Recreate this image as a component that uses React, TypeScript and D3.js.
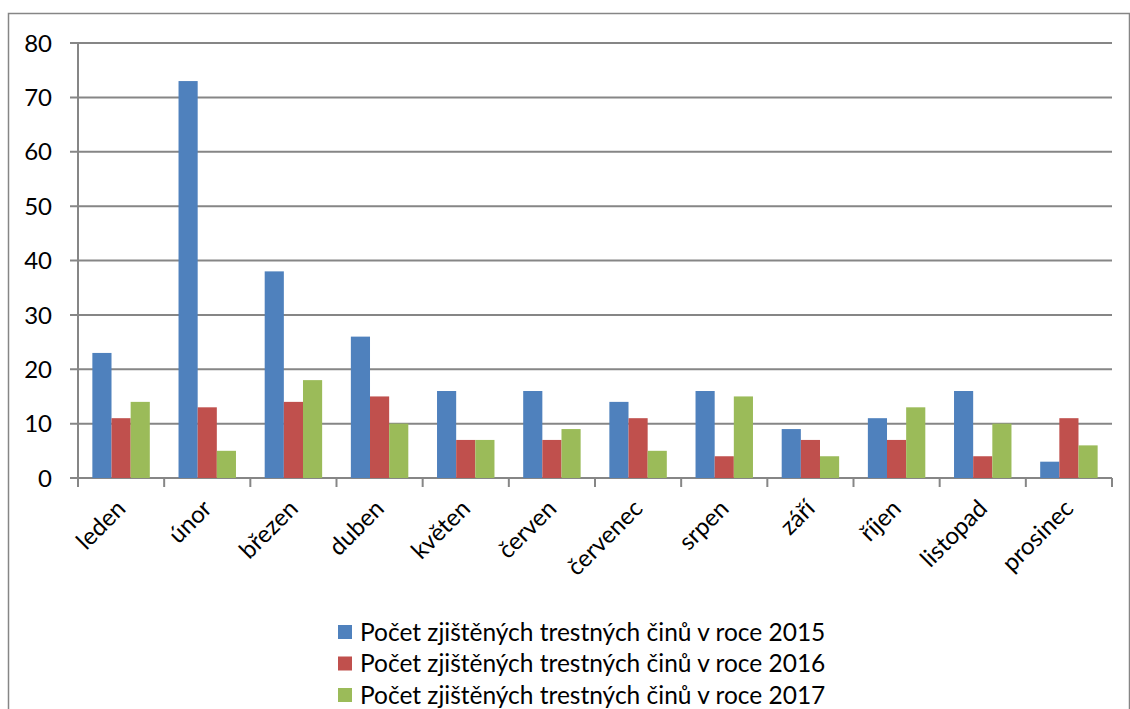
import React, { useEffect, useRef } from "react";
import * as d3 from "d3";

const months = ["leden", "únor", "březen", "duben", "květen", "červen", "červenec", "srpen", "září", "říjen", "listopad", "prosinec"];
const y2015 = [23, 73, 38, 26, 16, 16, 14, 16, 9, 11, 16, 3];
const y2016 = [11, 13, 14, 15, 7, 7, 11, 4, 7, 7, 4, 11];
const y2017 = [14, 5, 18, 10, 7, 9, 5, 15, 4, 13, 10, 6];
const seriesNames = [
  "Počet zjištěných trestných činů v roce 2015",
  "Počet zjištěných trestných činů v roce 2016",
  "Počet zjištěných trestných činů v roce 2017",
];
const colors = ["#4F81BD", "#C0504D", "#9BBB59"];
const yTicks = [0, 10, 20, 30, 40, 50, 60, 70, 80];

function App() {
  const ref = useRef<SVGSVGElement>(null);
  const W = 1130, H = 709;
  const margin = { top: 43, right: 18, bottom: 231, left: 78 };

  useEffect(() => {
    const svg = d3.select(ref.current);
    svg.selectAll("*").remove();
    const font = "Lato, 'Open Sans', sans-serif";
    const grid = "#868686";

    // outer frame
    svg.append("rect")
      .attr("x", 8.5).attr("y", 13.5)
      .attr("width", W - 9).attr("height", H + 20)
      .attr("fill", "none").attr("stroke", grid).attr("stroke-width", 1.5);

    const x = d3.scaleBand().domain(months).range([margin.left, W - margin.right]);
    const y = d3.scaleLinear().domain([0, 80]).range([H - margin.bottom, margin.top]);
    const bw = x.bandwidth() / 4.5;
    const data = [y2015, y2016, y2017];

    const g = svg.append("g");
    // gridlines (with tick stubs on the left)
    g.selectAll("line.grid").data(yTicks).enter().append("line")
      .attr("x1", margin.left - 8).attr("x2", W - margin.right)
      .attr("y1", d => y(d)).attr("y2", d => y(d))
      .attr("stroke", grid).attr("stroke-width", 2);
    // y axis
    g.append("line")
      .attr("x1", margin.left).attr("x2", margin.left)
      .attr("y1", y(80)).attr("y2", y(0))
      .attr("stroke", grid).attr("stroke-width", 2);
    g.selectAll("text.yl").data(yTicks).enter().append("text")
      .attr("x", margin.left - 26).attr("y", d => y(d))
      .attr("dy", "0.36em").attr("text-anchor", "end")
      .attr("font-family", font).attr("font-size", 24).attr("fill", "#000")
      .text(d => d);
    // x ticks
    const edges = months.map(m => x(m)!).concat([W - margin.right]);
    g.selectAll("line.xt").data(edges).enter().append("line")
      .attr("x1", d => d).attr("x2", d => d)
      .attr("y1", y(0)).attr("y2", y(0) + 9)
      .attr("stroke", grid).attr("stroke-width", 2);

    // bars
    data.forEach((vals, si) => {
      g.selectAll("rect.s" + si).data(vals).enter().append("rect")
        .attr("x", (d, i) => x(months[i])! + bw * 0.75 + si * bw)
        .attr("y", d => y(d))
        .attr("width", bw)
        .attr("height", d => y(0) - y(d))
        .attr("fill", colors[si]);
    });

    // x labels
    g.selectAll("text.xl").data(months).enter().append("text")
      .attr("transform", m => `translate(${x(m)! + x.bandwidth() / 2 + 6},${y(0) + 32}) rotate(-45)`)
      .attr("text-anchor", "end")
      .attr("font-family", font).attr("font-size", 24).attr("fill", "#000")
      .text(m => m);

    // legend
    const lg = svg.append("g");
    seriesNames.forEach((name, i) => {
      const cy = 632 + i * 31.5;
      lg.append("rect").attr("x", 338).attr("y", cy - 7).attr("width", 14).attr("height", 14).attr("fill", colors[i]);
      lg.append("text").attr("x", 360).attr("y", cy).attr("dy", "0.36em")
        .attr("font-family", font).attr("font-size", 24.5).attr("fill", "#000")
        .text(name);
    });
  }, []);

  return (
    <svg ref={ref} width={W} height={H}
      style={{ position: "fixed", left: 0, top: 0, background: "#fff" }} />
  );
}

export default App;
